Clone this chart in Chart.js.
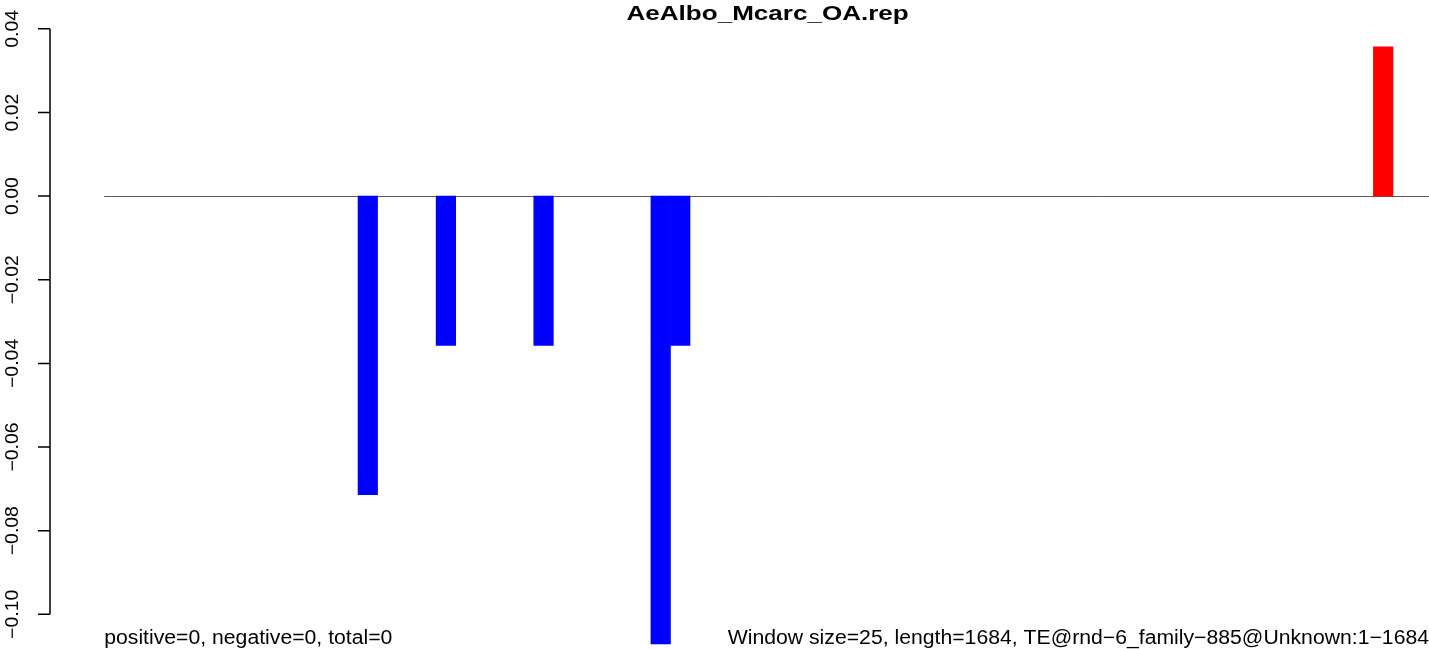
<!DOCTYPE html>
<html>
<head>
<meta charset="utf-8">
<script src="https://cdn.jsdelivr.net/npm/chart.js@4.4.0/dist/chart.umd.min.js"></script>
<style>
  html, body { margin: 0; padding: 0; background: #fff; overflow: hidden; }
  #wrap { width: 1432px; height: 649px; }
</style>
</head>
<body>
<div id="wrap"><canvas id="chart" width="1432" height="649"></canvas></div>
<script>
'use strict';

const TITLE = 'AeAlbo_Mcarc_OA.rep';
const LEFT_NOTE = 'positive=0, negative=0, total=0';
const RIGHT_NOTE = 'Window size=25, length=1684, TE@rnd\u22126_family\u2212885@Unknown:1\u22121684';

// one bar per 25 bp window (68 windows)
const windows = Array.from({ length: 68 }, (_, i) => i + 1);
const values = [
  0, 0, 0, 0, 0, 0, 0, 0, 0, 0,
  0, 0, 0, -0.0714, 0, 0, 0, -0.0357, 0, 0,
  0, 0, -0.0357, 0, 0, 0, 0, 0, -0.1071, -0.0357,
  0, 0, 0, 0, 0, 0, 0, 0, 0, 0,
  0, 0, 0, 0, 0, 0, 0, 0, 0, 0,
  0, 0, 0, 0, 0, 0, 0, 0, 0, 0,
  0, 0, 0, 0, 0, 0.0357, 0, 0
];
const yTicks = [0.04, 0.02, 0, -0.02, -0.04, -0.06, -0.08, -0.10];
const yTickLabels = ['0.04', '0.02', '0.00', '\u22120.02', '\u22120.04', '\u22120.06', '\u22120.08', '\u22120.10'];

const FONT = '"Liberation Sans", Arial, Helvetica, sans-serif';
const VIEW_RIGHT = 1429; // visible page edge; the plot runs a few px past it

// stretched text like the R device output
function stretchedText(ctx, text, x, y, sx, align) {
  ctx.save();
  ctx.translate(x, y);
  ctx.scale(sx, 1);
  ctx.textAlign = align;
  ctx.fillText(text, 0, 0);
  ctx.restore();
}

function barColor(v) {
  if (v < 0) return '#0000ff';
  if (v > 0) return '#ff0000';
  return 'rgba(0,0,0,0)';
}

const rAxes = {
  id: 'rAxes',
  beforeDatasetsDraw(chart) {
    const { ctx, chartArea, scales: { y } } = chart;
    const y0 = Math.round(y.getPixelForValue(0)) + 0.5;
    ctx.save();
    ctx.strokeStyle = '#5a5a5a';
    ctx.lineWidth = 1;
    ctx.beginPath();
    ctx.moveTo(chartArea.left, y0);
    ctx.lineTo(chartArea.right, y0);
    ctx.stroke();
    ctx.restore();
  },
  afterDraw(chart) {
    const { ctx, scales: { y } } = chart;
    const axisX = 50;
    ctx.save();
    ctx.strokeStyle = '#000';
    ctx.lineWidth = 1.5;
    ctx.beginPath();
    ctx.moveTo(axisX, y.getPixelForValue(yTicks[0]));
    ctx.lineTo(axisX, y.getPixelForValue(yTicks[yTicks.length - 1]));
    yTicks.forEach((t) => {
      const py = y.getPixelForValue(t);
      ctx.moveTo(axisX, py);
      ctx.lineTo(axisX - 12, py);
    });
    ctx.stroke();

    ctx.fillStyle = '#000';
    ctx.font = '18px ' + FONT;
    ctx.textBaseline = 'alphabetic';
    yTicks.forEach((t, i) => {
      const py = y.getPixelForValue(t);
      ctx.save();
      ctx.translate(18, py);
      ctx.rotate(-Math.PI / 2);
      ctx.scale(1.08, 1);
      ctx.textAlign = 'center';
      ctx.fillText(yTickLabels[i], 0, 0);
      ctx.restore();
    });

    const left = chart.chartArea.left;
    ctx.font = 'bold 21px ' + FONT;
    stretchedText(ctx, TITLE, (left + VIEW_RIGHT) / 2 + 1, 20, 1.24, 'center');

    ctx.font = '20px ' + FONT;
    stretchedText(ctx, LEFT_NOTE, left, 644, 1.06, 'left');
    stretchedText(ctx, RIGHT_NOTE, VIEW_RIGHT, 644, 1.06, 'right');
    ctx.restore();
  }
};

new Chart(document.getElementById('chart'), {
  type: 'bar',
  data: {
    labels: windows,
    datasets: [{
      data: values,
      backgroundColor: values.map(barColor),
      borderWidth: 0,
      barPercentage: 1,
      categoryPercentage: 1
    }]
  },
  options: {
    responsive: false,
    devicePixelRatio: 1,
    animation: false,
    layout: { padding: { left: 104.2, right: 0, top: 0, bottom: 0 } },
    plugins: { legend: { display: false }, tooltip: { enabled: false }, title: { display: false } },
    scales: {
      x: { display: false },
      y: { display: false, min: -0.1083, max: 0.0469 }
    }
  },
  plugins: [rAxes]
});
</script>
</body>
</html>
